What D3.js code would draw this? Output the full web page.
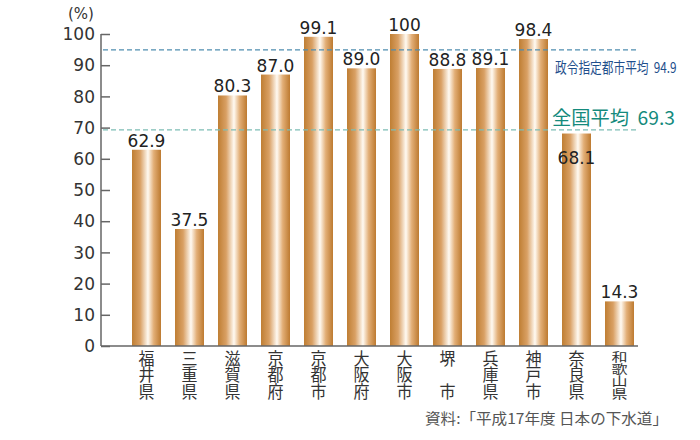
<!DOCTYPE html>
<html>
<head>
<meta charset="utf-8">
<script src="https://cdn.jsdelivr.net/npm/d3@7"></script>
<style>
  body { margin: 0; background: #fff; }
  text { font-family: "Noto Sans CJK JP", "Noto Sans", sans-serif; }
  .num { font-family: "DejaVu Sans", "Noto Sans", sans-serif; }
  .vert { writing-mode: vertical-rl; }
</style>
</head>
<body>
<svg id="chart" width="700" height="440"></svg>
<script>
// data
const cities = ['福井県', '三重県', '滋賀県', '京都府', '京都市', '大阪府', '大阪市', '堺　市', '兵庫県', '神戸市', '奈良県', '和歌山県'];
const rates = [62.9, 37.5, 80.3, 87.0, 99.1, 89.0, 100, 88.8, 89.1, 98.4, 68.1, 14.3];
const rateLabels = ['62.9', '37.5', '80.3', '87.0', '99.1', '89.0', '100', '88.8', '89.1', '98.4', '68.1', '14.3'];
const yTicks = [0, 10, 20, 30, 40, 50, 60, 70, 80, 90, 100];
const refLines = [
  { label: '政令指定都市平均', value: 94.9 },
  { label: '全国平均', value: 69.3 }
];
const sourceNote = '資料:「平成17年度 日本の下水道」';

const svg = d3.select('#chart');

const x = d3.scaleBand()
  .domain(cities)
  .range([125, 641])
  .paddingInner(0.326)
  .paddingOuter(0.163);

const y = d3.scaleLinear()
  .domain([0, 100])
  .range([346, 34]);

// gradient for bars
const grad = svg.append('defs').append('linearGradient')
  .attr('id', 'barGrad')
  .attr('x1', '0%').attr('x2', '100%').attr('y1', '0%').attr('y2', '0%');
[[0, '#bf7e33'], [0.28, '#d9a064'], [0.55, '#fffaf2'], [0.75, '#e2ae76'], [1, '#bd7a30']]
  .forEach(function (s) {
    grad.append('stop').attr('offset', s[0]).attr('stop-color', s[1]);
  });

// y axis
const yAxis = d3.axisRight(y)
  .tickValues(yTicks)
  .tickSize(9)
  .tickFormat('');
const gy = svg.append('g')
  .attr('transform', 'translate(101,0)')
  .call(yAxis);
gy.select('.domain').attr('stroke', '#666').attr('stroke-width', 1.5).attr('d', 'M0,' + y(100) + 'V' + y(0));
gy.selectAll('.tick line').attr('stroke', '#666').attr('stroke-width', 1.5);

svg.append('g').selectAll('text')
  .data(yTicks)
  .enter().append('text')
  .attr('class', 'num')
  .attr('x', 95)
  .attr('y', function (d) { return y(d); })
  .attr('dy', '0.36em')
  .attr('text-anchor', 'end')
  .attr('font-size', 17)
  .attr('fill', '#333')
  .text(function (d) { return d; });

svg.append('text')
  .attr('class', 'num')
  .attr('x', 81)
  .attr('y', 19)
  .attr('text-anchor', 'middle')
  .attr('font-size', 15)
  .attr('fill', '#333')
  .text('(%)');

// bars
svg.append('g').selectAll('rect')
  .data(rates)
  .enter().append('rect')
  .attr('x', function (d, i) { return x(cities[i]); })
  .attr('y', function (d) { return y(d); })
  .attr('width', x.bandwidth())
  .attr('height', function (d) { return y(0) - y(d); })
  .attr('fill', 'url(#barGrad)');

// baseline
svg.append('line')
  .attr('x1', 101).attr('x2', 638)
  .attr('y1', y(0)).attr('y2', y(0))
  .attr('stroke', '#666').attr('stroke-width', 1.5);

// reference lines
const refColors = ['#4f8db0', '#7dbdb5'];
const refText = ['#1f4f8c', '#148a7c'];
svg.append('g').selectAll('line')
  .data(refLines)
  .enter().append('line')
  .attr('x1', 103).attr('x2', 638)
  .attr('y1', function (d) { return y(d.value); })
  .attr('y2', function (d) { return y(d.value); })
  .attr('stroke', function (d, i) { return refColors[i]; })
  .attr('stroke-width', 1.2)
  .attr('stroke-dasharray', '5,3');

const gap = '\u00a0\u00a0';

// 政令指定都市 label is condensed horizontally
svg.append('text')
  .attr('transform', 'translate(555,' + (y(refLines[0].value) + 18) + ') scale(0.78,1)')
  .attr('dy', '0.36em')
  .attr('font-size', 15)
  .attr('fill', refText[0])
  .text(refLines[0].label + gap + refLines[0].value.toFixed(1));

svg.append('text')
  .attr('x', 552).attr('y', y(refLines[1].value) - 12)
  .attr('dy', '0.36em')
  .attr('font-size', 19)
  .attr('textLength', 123)
  .attr('lengthAdjust', 'spacingAndGlyphs')
  .attr('fill', refText[1])
  .text(refLines[1].label + gap + refLines[1].value.toFixed(1));

// value labels (奈良県 label sits inside its bar)
svg.append('g').selectAll('text')
  .data(rates)
  .enter().append('text')
  .attr('class', 'num')
  .attr('x', function (d, i) { return x(cities[i]) + x.bandwidth() / 2; })
  .attr('y', function (d, i) { return cities[i] === '奈良県' ? y(d) + 30 : y(d) - 3; })
  .attr('text-anchor', 'middle')
  .attr('font-size', 17)
  .attr('fill', '#222')
  .text(function (d, i) { return rateLabels[i]; });

// category labels, vertical text fitted into the same height
svg.append('g').selectAll('text')
  .data(cities)
  .enter().append('text')
  .attr('class', 'vert')
  .attr('x', function (d) { return x(d) + x.bandwidth() / 2; })
  .attr('y', function (d) { return Array.from(d).length > 3 ? 351 : 350; })
  .attr('font-size', 16)
  .attr('textLength', function (d) { return Array.from(d).length > 3 ? 49 : 50; })
  .attr('lengthAdjust', 'spacingAndGlyphs')
  .attr('fill', '#333')
  .text(function (d) { return d; });

// source
svg.append('text')
  .attr('x', 425).attr('y', 419)
  .attr('dy', '0.36em')
  .attr('font-size', 15)
  .attr('textLength', 243)
  .attr('lengthAdjust', 'spacingAndGlyphs')
  .attr('fill', '#555')
  .text(sourceNote);
</script>
</body>
</html>
